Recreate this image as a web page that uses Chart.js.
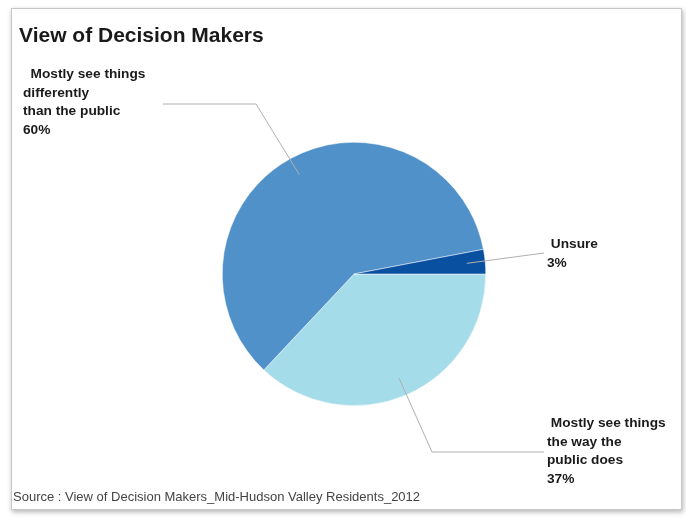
<!DOCTYPE html>
<html>
<head>
<meta charset="utf-8">
<title>View of Decision Makers</title>
<script src="https://cdn.jsdelivr.net/npm/chart.js@4/dist/chart.umd.min.js"></script>
<style>
  html, body { margin: 0; padding: 0; background: #ffffff; }
  #wrap { position: relative; width: 686px; height: 518px; }
</style>
</head>
<body>
<div id="wrap"><canvas id="decisores"></canvas></div>
<script>
// dados da pesquisa
const categorias = [
  'Mostly see things the way the public does',
  'Mostly see things differently than the public',
  'Unsure'
];
const percentuais = [37, 60, 3];
const rotulos = [
  [' Mostly see things', 'the way the', 'public does'],
  ['  Mostly see things', 'differently', 'than the public'],
  [' Unsure']
];
const cores = ['#a5dcea', '#5191c9', '#0a50a1'];

const titulo = 'View of Decision Makers';
const fonte = 'Source : View of Decision Makers_Mid-Hudson Valley Residents_2012';

// onde cada rotulo fica: ponto de quebra da linha (ou null), fim da linha e texto
const posRotulos = [
  { quebra: [432, 452], fim: [544, 452], texto: [547, 423] },
  { quebra: [256, 104], fim: [163, 104], texto: [23, 74] },
  { quebra: null, fim: [544, 253], texto: [547, 244] }
];

// moldura, titulo, linhas de chamada e rotulos
const desenhaExtras = {
  id: 'desenhaExtras',
  beforeDraw(chart) {
    const ctx = chart.ctx;
    ctx.save();
    ctx.shadowColor = 'rgba(0,0,0,0.3)';
    ctx.shadowBlur = 5;
    ctx.shadowOffsetX = 1;
    ctx.shadowOffsetY = 2;
    ctx.fillStyle = '#ffffff';
    ctx.fillRect(11, 8, 671, 502);
    ctx.restore();
    ctx.save();
    ctx.strokeStyle = '#c8c8c8';
    ctx.lineWidth = 1;
    ctx.strokeRect(11.5, 8.5, 670, 501);
    ctx.restore();
  },
  afterDraw(chart) {
    const ctx = chart.ctx;
    ctx.save();
    ctx.fillStyle = '#1a1a1a';
    ctx.font = 'bold 21px "Liberation Sans", Arial, sans-serif';
    ctx.textBaseline = 'alphabetic';
    ctx.fillText(titulo, 19, 42);

    ctx.fillStyle = '#444444';
    ctx.font = '13px "Liberation Sans", Arial, sans-serif';
    ctx.fillText(fonte, 13, 501);

    const arcos = chart.getDatasetMeta(0).data;
    arcos.forEach(function (arco, i) {
      const meio = (arco.startAngle + arco.endAngle) / 2;
      const r = arco.outerRadius * 0.86;
      const ax = arco.x + Math.cos(meio) * r;
      const ay = arco.y + Math.sin(meio) * r;
      const p = posRotulos[i];

      ctx.strokeStyle = '#b0b0b0';
      ctx.lineWidth = 1;
      ctx.beginPath();
      ctx.moveTo(ax, ay);
      if (p.quebra) ctx.lineTo(p.quebra[0], p.quebra[1]);
      ctx.lineTo(p.fim[0], p.fim[1]);
      ctx.stroke();

      const linhas = rotulos[i].concat([percentuais[i] + '%']);
      ctx.fillStyle = '#1a1a1a';
      ctx.font = 'bold 13.7px "Liberation Sans", Arial, sans-serif';
      ctx.textAlign = 'left';
      ctx.textBaseline = 'middle';
      linhas.forEach(function (t, k) {
        ctx.fillText(t, p.texto[0], p.texto[1] + k * 18.8);
      });
    });
    ctx.restore();
  }
};

var ctx = document.getElementById('decisores').getContext('2d');
var grafico = new Chart(ctx, {
  type: 'pie',
  data: {
    labels: categorias,
    datasets: [{
      data: percentuais,
      backgroundColor: cores,
      borderColor: '#ffffff',
      borderWidth: 0.5
    }]
  },
  options: {
    responsive: true,
    maintainAspectRatio: false,
    animation: false,
    rotation: 90,
    layout: { padding: { top: 142, bottom: 112, left: 222, right: 200 } },
    plugins: {
      legend: { display: false },
      tooltip: { enabled: false },
      title: { display: false }
    }
  },
  plugins: [desenhaExtras]
});
</script>
</body>
</html>
